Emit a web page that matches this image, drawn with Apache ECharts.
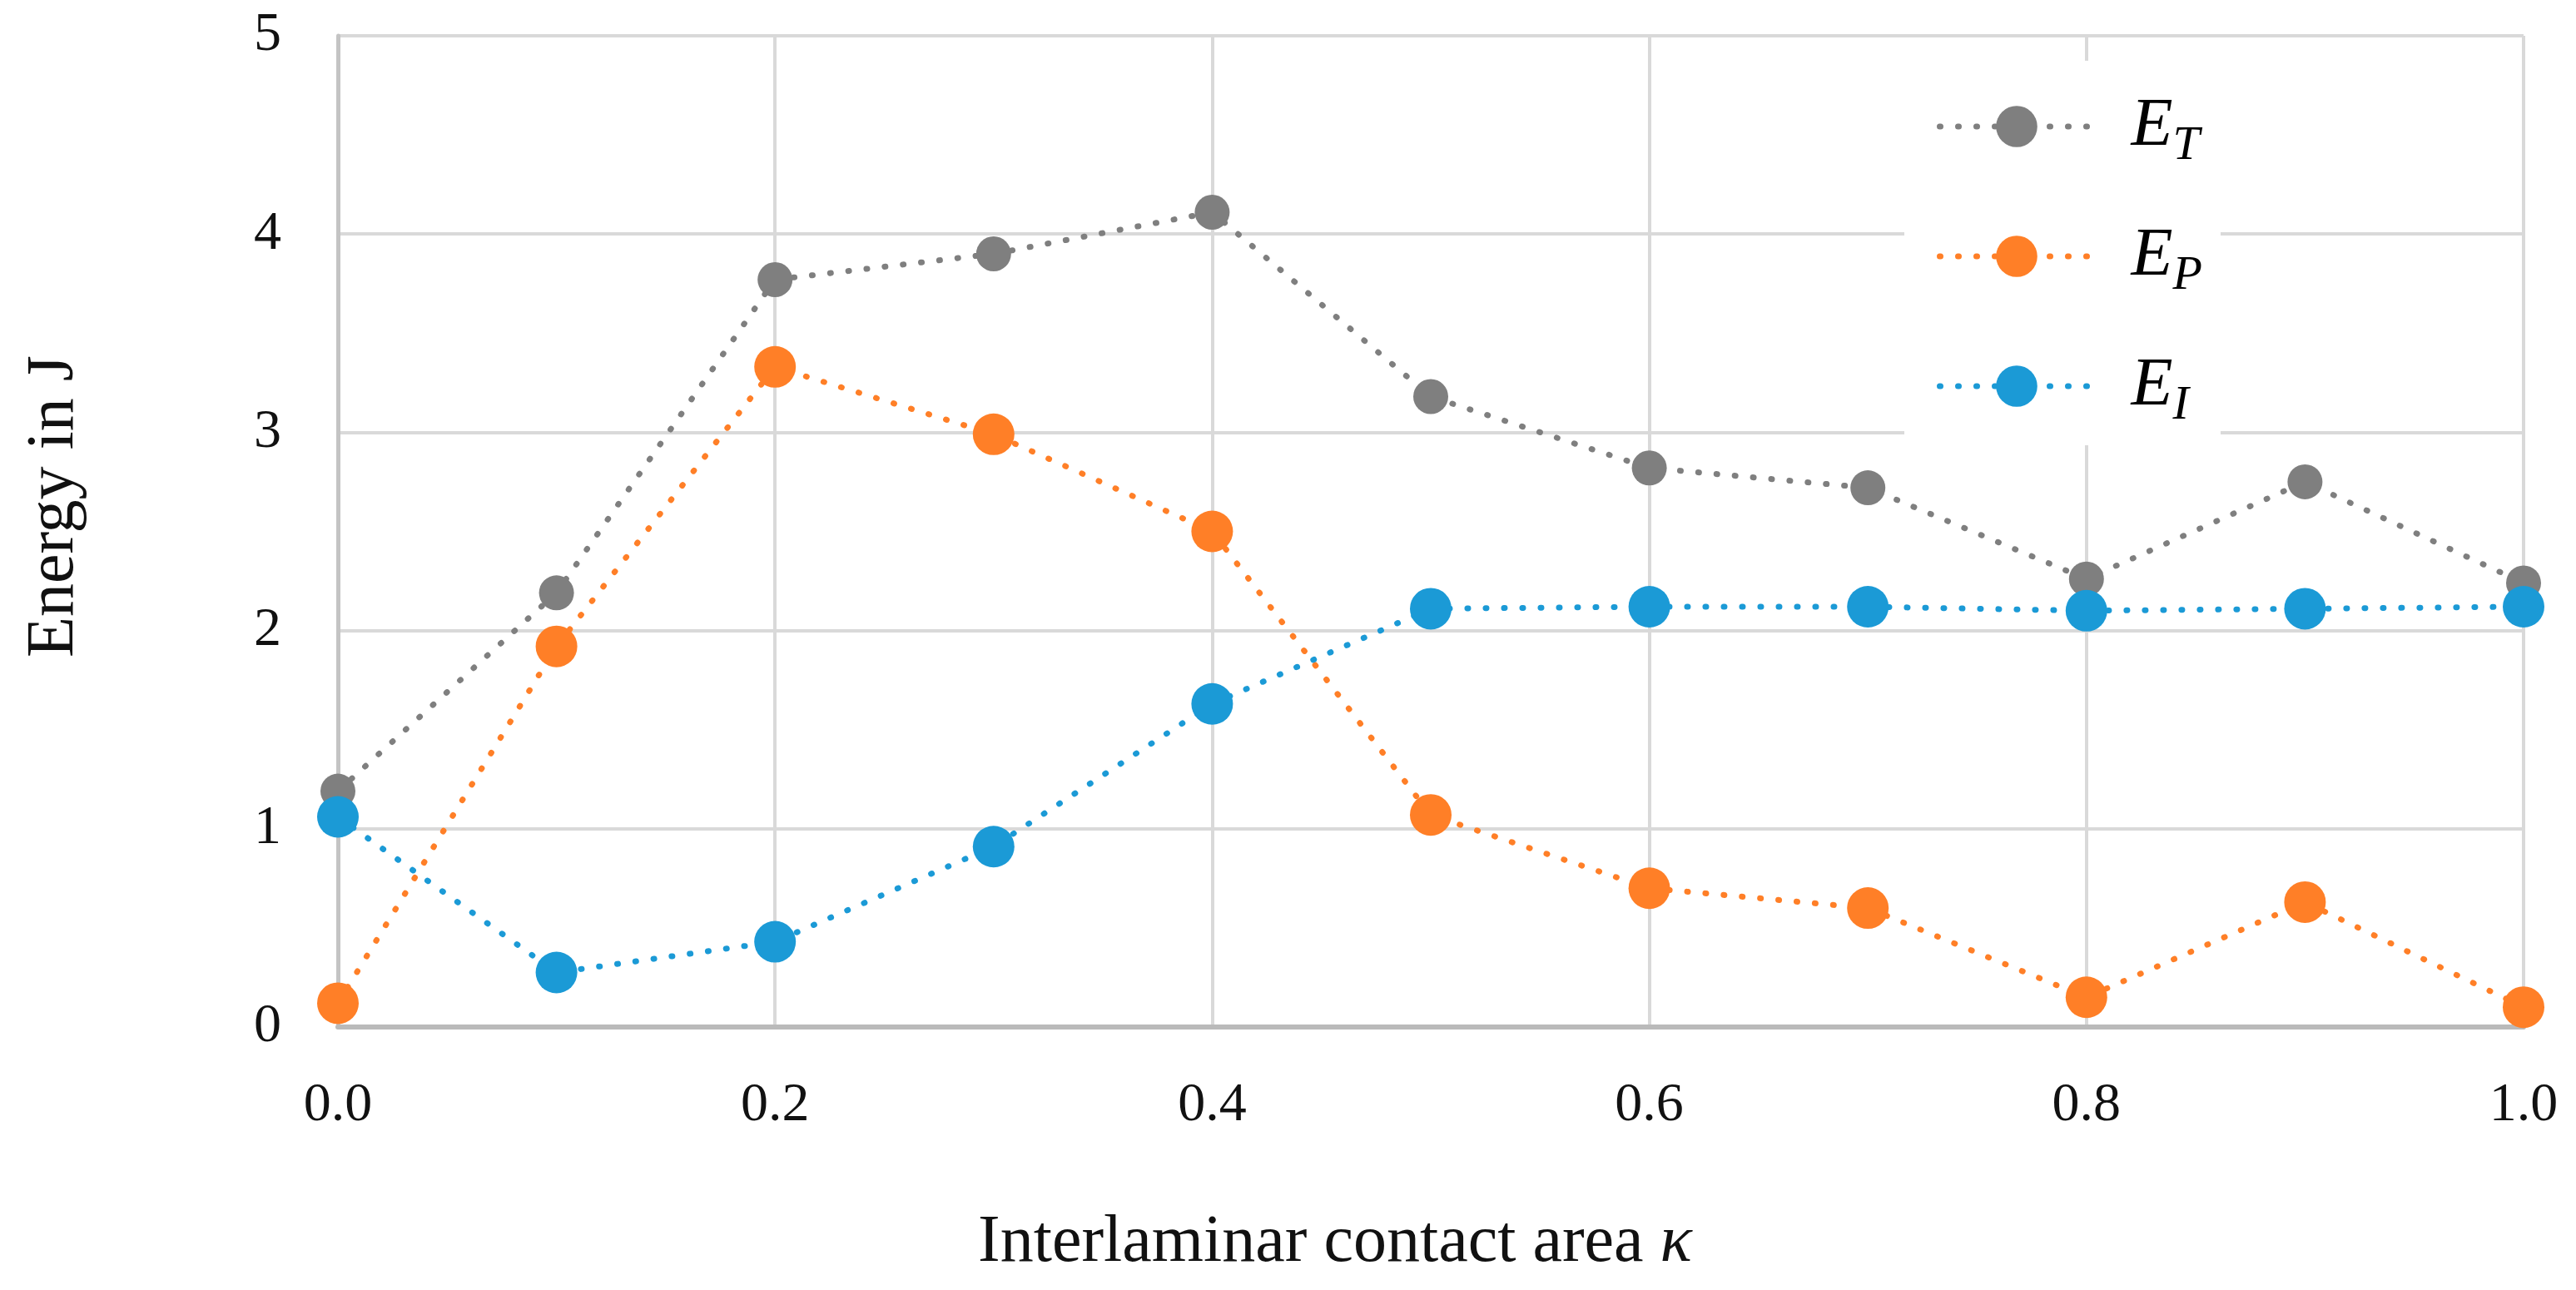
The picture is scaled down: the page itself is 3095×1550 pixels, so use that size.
<!DOCTYPE html>
<html><head><meta charset="utf-8">
<script src="https://cdn.jsdelivr.net/npm/echarts@6/dist/echarts.min.js"></script>
<style>html,body{margin:0;padding:0;background:#fff}#c{width:3095px;height:1550px}</style>
</head><body><div id="c"></div>
<script>
// contact area kappa
const kappa = [0.0, 0.1, 0.2, 0.3, 0.4, 0.5, 0.6, 0.7, 0.8, 0.9, 1.0];
// energies in J
const ET = [1.19, 2.19, 3.77, 3.90, 4.11, 3.18, 2.82, 2.72, 2.26, 2.75, 2.24];
const EP = [0.12, 1.92, 3.33, 2.99, 2.50, 1.07, 0.70, 0.60, 0.15, 0.63, 0.10];
const EI = [1.06, 0.275, 0.43, 0.91, 1.63, 2.11, 2.12, 2.12, 2.10, 2.11, 2.12];
const seriesNames = ['E_T', 'E_P', 'E_I'];
const colors = ['#7f7f7f', '#ff7f27', '#1b9ad6'];

const FONT = "'Liberation Serif', 'Times New Roman', serif";
const pairs = arr => kappa.map((k, i) => [k, arr[i]]);
const dotted = c => ({ color: c, width: 7, type: [1, 21], cap: 'round' });

const chart = echarts.init(document.getElementById('c'), null, { renderer: 'canvas' });
chart.setOption({
  backgroundColor: '#fff',
  animation: false,
  color: colors,
  grid: { left: 406, right: 63, top: 43, bottom: 316, containLabel: false },
  xAxis: {
    type: 'value', min: 0, max: 1, interval: 0.2,
    axisLine: { show: true, lineStyle: { color: '#bababa', width: 6 } },
    axisTick: { show: false },
    splitLine: { show: true, lineStyle: { color: '#d9d9d9', width: 4 } },
    axisLabel: { formatter: v => v.toFixed(1), fontFamily: FONT, fontSize: 66, color: '#111', margin: 62 },
    name: 'Interlaminar contact area {k|κ}',
    nameLocation: 'middle', nameGap: 220,
    nameTextStyle: {
      fontFamily: FONT, fontSize: 80, color: '#111', padding: [0, 230, 0, 0],
      rich: { k: { fontFamily: FONT, fontSize: 80, fontStyle: 'italic', color: '#111' } }
    }
  },
  yAxis: {
    type: 'value', min: 0, max: 5, interval: 1,
    axisLine: { show: true, lineStyle: { color: '#c4c4c4', width: 5 } },
    axisTick: { show: false },
    splitLine: { show: true, lineStyle: { color: '#d9d9d9', width: 4 } },
    axisLabel: { fontFamily: FONT, fontSize: 66, color: '#111', margin: 68 },
    name: 'Energy in J',
    nameLocation: 'middle', nameGap: 300,
    nameTextStyle: { fontFamily: FONT, fontSize: 80, color: '#111', padding: [0, 0, 0, 60] }
  },
  legend: {
    orient: 'vertical', left: 2288, top: 73,
    padding: [26, 22, 18, 39],
    backgroundColor: '#fff',
    itemWidth: 185, itemHeight: 62, itemGap: 50,
    data: seriesNames,
    lineStyle: { width: 7, type: [1, 21], cap: 'round' },
    formatter: n => '{e|E}{s|' + n.split('_')[1] + '}',
    textStyle: {
      fontFamily: FONT, color: '#000',
      rich: {
        e: { fontFamily: FONT, fontStyle: 'italic', fontSize: 82, lineHeight: 104, padding: [0, 0, 0, 40], color: '#000' },
        s: { fontFamily: FONT, fontStyle: 'italic', fontSize: 58, lineHeight: 56, padding: [48, 0, 0, 0], color: '#000' }
      }
    }
  },
  series: [
    { name: 'E_T', type: 'line', data: pairs(ET), symbol: 'circle', symbolSize: 42,
      itemStyle: { color: colors[0] }, lineStyle: dotted(colors[0]), z: 2 },
    { name: 'E_P', type: 'line', data: pairs(EP), symbol: 'circle', symbolSize: 50,
      itemStyle: { color: colors[1] }, lineStyle: dotted(colors[1]), z: 3 },
    { name: 'E_I', type: 'line', data: pairs(EI), symbol: 'circle', symbolSize: 50,
      itemStyle: { color: colors[2] }, lineStyle: dotted(colors[2]), z: 4 }
  ]
});
</script></body></html>
